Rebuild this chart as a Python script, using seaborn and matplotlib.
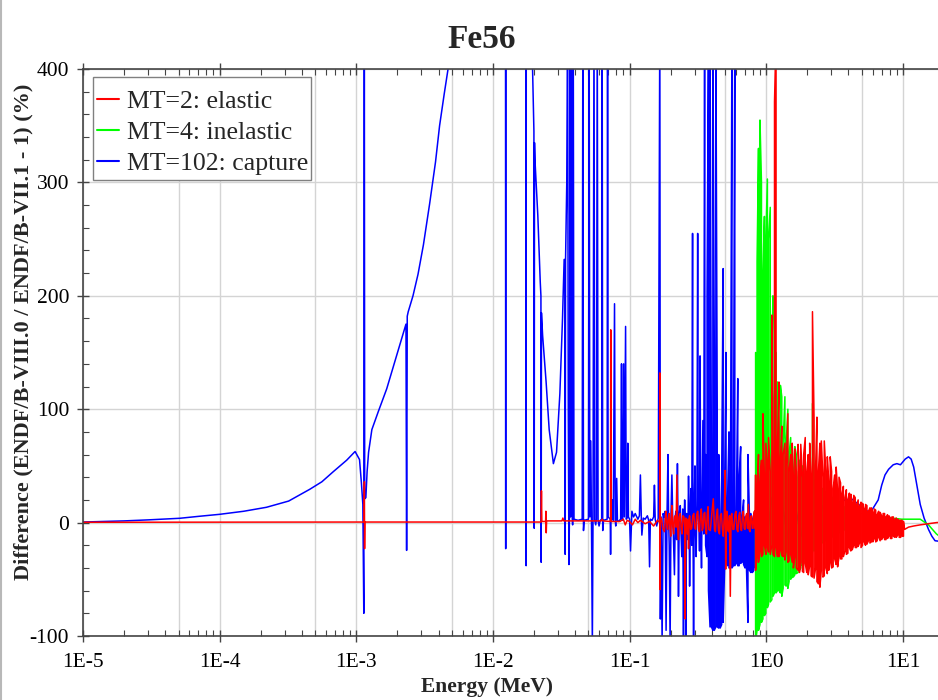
import numpy as np
import pandas as pd
import matplotlib
matplotlib.use("Agg")
import matplotlib.pyplot as plt
import seaborn as sns
from matplotlib.ticker import FixedLocator, NullFormatter
from matplotlib.lines import Line2D
from matplotlib.patches import Rectangle

# ---------------- data (energy in MeV, difference in %) ----------------
title = "Fe56"
series_labels = ["MT=2: elastic", "MT=4: inelastic", "MT=102: capture"]
series_colors = ["#ff0000", "#00ff00", "#0000ff"]
x_tick_values = [1e-5, 1e-4, 1e-3, 1e-2, 1e-1, 1e0, 1e1]
x_tick_labels = ["1E-5", "1E-4", "1E-3", "1E-2", "1E-1", "1E0", "1E1"]
y_tick_values = [-100, 0, 100, 200, 300, 400]

# energy grid of the dense fast-neutron region (elastic / inelastic envelopes)
band_E = [0.836, 0.857, 0.878, 0.900, 0.923, 0.946, 0.970, 0.994, 1.02, 1.04,
          1.07, 1.10, 1.12, 1.15, 1.18, 1.21, 1.24, 1.27, 1.30, 1.33,
          1.37, 1.40, 1.44, 1.47, 1.51, 1.55, 1.58, 1.62, 1.66, 1.71,
          1.75, 1.79, 1.84, 1.88, 1.93, 1.98, 2.03, 2.08, 2.13, 2.18,
          2.24, 2.30, 2.35, 2.41, 2.47, 2.53, 2.60, 2.66, 2.73, 2.80,
          2.87, 2.94, 3.01, 3.09, 3.17, 3.25, 3.33, 3.41, 3.50, 3.58,
          3.67, 3.77, 3.86, 3.96, 4.06, 4.16, 4.26, 4.37, 4.48, 4.59,
          4.71, 4.82, 4.94, 5.07, 5.20, 5.33, 5.46, 5.60, 5.74, 5.88,
          6.03, 6.18, 6.33, 6.49, 6.65, 6.82, 6.99, 7.17, 7.35, 7.53,
          7.72, 7.91, 8.11, 8.31, 8.52, 8.73, 8.95, 9.17, 9.40, 9.64,
          9.88, 10.1]

# ---- MT=2 elastic ----
elastic_low = [(1e-5, 0.3), (1e-3, 0.4), (1.14e-3, 0.5), (1.146e-3, 36), (1.150e-3, -23),
               (1.155e-3, 0.5), (2.25e-2, 0.5), (2.265e-2, 28), (2.28e-2, 1), (2.43e-2, 1),
               (2.44e-2, 10), (2.455e-2, -9), (2.47e-2, 1.5), (3.2e-2, 1.5), (3.25e-2, 4),
               (3.3e-2, 1.5), (6.2e-2, 1.5), (6.3e-2, 3), (6.4e-2, 1.5), (7.25e-2, 1),
               (7.28e-2, 170), (7.31e-2, 20), (7.34e-2, 1), (8.5e-2, 1), (9.0e-2, 3),
               (9.3e-2, -2), (9.6e-2, 2), (0.1, 1)]
elastic_mid = [(0.105, -2), (0.11, 3), (0.115, 0), (0.12, 2), (0.13, -1), (0.14, 1), (0.15, -3),
               (0.16, 2), (0.1662, 0), (0.1666, 132), (0.167, -59), (0.1675, 0), (0.171, 4),
               (0.175, -5), (0.18, -8), (0.183, 6), (0.185, 10), (0.188, -4), (0.19, -6),
               (0.193, 5), (0.195, 8), (0.198, -6), (0.2, -12), (0.202, 4), (0.204, 15),
               (0.207, -3), (0.21, -10), (0.213, 5), (0.215, 6), (0.219, -4), (0.222, 42),
               (0.225, -6), (0.228, -15), (0.231, 5), (0.235, 8), (0.238, -4), (0.242, -10),
               (0.246, 6), (0.25, 5), (0.253, -3), (0.255, -85), (0.258, 4), (0.26, 3),
               (0.263, -5), (0.265, -10), (0.268, 3), (0.27, -23), (0.273, 4), (0.275, 6),
               (0.28, -6), (0.285, -5), (0.29, 6), (0.295, 8), (0.3, -5), (0.305, -6),
               (0.31, 7), (0.315, 10), (0.32, -6), (0.325, -8), (0.33, 6), (0.335, 12),
               (0.34, -7), (0.345, -5), (0.35, 8), (0.355, 9), (0.36, -6), (0.365, -10),
               (0.37, 7), (0.375, 14), (0.38, -6), (0.39, -7), (0.40, 8), (0.41, 21),
               (0.418, -6), (0.425, -8), (0.432, 6), (0.44, 12), (0.447, -7), (0.455, -10),
               (0.462, 6), (0.47, 8), (0.478, -6), (0.485, -12), (0.493, 6), (0.5, 46),
               (0.505, -41), (0.51, 5), (0.515, 10), (0.522, -6), (0.53, -8), (0.538, 6),
               (0.546, -65), (0.553, 6), (0.56, 8), (0.57, -6), (0.58, -6), (0.59, 7),
               (0.6, 10), (0.61, -6), (0.62, -8), (0.63, 6), (0.64, 9), (0.65, -6),
               (0.66, -7), (0.67, 6), (0.68, 10), (0.69, -5), (0.7, -6), (0.71, 6),
               (0.72, 8), (0.73, -5), (0.74, 16), (0.75, -6), (0.76, -8), (0.77, 5),
               (0.78, 6), (0.79, -5), (0.8, -5), (0.81, 7), (0.82, 10), (0.83, -5)]
elastic_hi = [42, 25, 60, 35, 55, 96, 40, 70, 50, 75,
              45, 183, 60, 371, 430, 70, 124, 55, 85, 60,
              70, 50, 96, 45, 60, 70, 40, 65, 45, 69,
              45, 69, 40, 60, 75, 45, 60, 70, 40, 186,
              90, 50, 93, 45, 70, 72, 40, 72, 45, 58,
              35, 58, 45, 30, 42, 49, 28, 40, 35, 25,
              32, 22, 29, 20, 26, 25, 18, 24, 22, 16,
              20, 14, 18, 17, 12, 16, 15, 10, 13, 13,
              9, 12, 11, 7, 10, 9, 6, 8, 8, 5,
              7, 6, 4, 5, 5, 3, 4, 3, 2, 2,
              2, 1]
elastic_lo = [-42, -30, -35, -25, -30, -28, -20, -28, -22, -26,
              -28, -20, -28, -30, -22, -30, -30, -24, -29, -30,
              -33, -26, -35, -34, -28, -35, -40, -30, -40, -42,
              -44, -35, -43, -44, -36, -44, -46, -38, -47, -48,
              -49, -40, -52, -54, -57, -42, -48, -47, -40, -45,
              -42, -35, -40, -39, -32, -37, -39, -30, -32, -32,
              -30, -25, -28, -27, -22, -25, -24, -20, -22, -22,
              -21, -18, -22, -20, -17, -20, -19, -16, -18, -17,
              -17, -14, -17, -16, -13, -16, -15, -13, -15, -15,
              -14, -12, -14, -14, -12, -13, -13, -11, -13, -13,
              -12, -12]
elastic_high = [(10.3, -6), (11.0, -4), (12.0, -3), (13.4, -2), (15.4, -1), (17.6, 0), (20.0, 0.5)]

# ---- MT=4 inelastic ----
inelastic_hi = [150, 230, 330, 355, 300, 220, 270, 250, 303, 250,
                278, 150, 200, 110, 150, 124, 80, 121, 111, 70,
                111, 70, 100, 60, 75, 67, 45, 67, 60, 40,
                55, 40, 50, 45, 30, 40, 40, 28, 35, 105,
                40, 38, 35, 35, 32, 30, 30, 28, 27, 26,
                25, 24, 23, 22, 21, 20, 19, 18, 17, 16,
                15, 14, 13, 12, 11, 10, 10, 9, 8]
inelastic_lo = [-105, -95, -95, -90, -88, -85, -82, -80, -75, -72,
                -70, -68, -65, -62, -62, -60, -60, -62, -65, -58,
                -55, -56, -58, -52, -50, -48, -48, -46, -45, -44,
                -42, -40, -38, -35, -32, -30, -30, -28, -28, -26,
                -25, -23, -22, -21, -20, -19, -18, -17, -16, -15,
                -15, -14, -13, -12, -12, -11, -10, -9, -9, -8,
                -7, -6, -5, -4, -3, -2, 0, 2, 8]
inelastic_high = [(5.0, 8), (6.0, 7), (7.0, 5), (8.3, 4), (9.8, 3), (11.5, 3), (13.4, 3),
                  (15.4, -2), (17.6, -10), (20.0, -15)]

# ---- MT=102 capture ----
capture_low = [(1e-5, 0.5), (2e-5, 1.5), (3e-5, 2.4), (5.1e-5, 3.8), (7e-5, 5.5), (1e-4, 7.3),
               (1.5e-4, 10), (2.2e-4, 13.5), (3.2e-4, 19), (4.57e-4, 29.4), (5.6e-4, 36),
               (6.8e-4, 45), (8.5e-4, 55), (9.8e-4, 62.7), (1.056e-3, 55.6), (1.09e-3, 35),
               (1.117e-3, 16), (1.135e-3, -80), (1.145e-3, 450), (1.152e-3, 21), (1.175e-3, 22),
               (1.2e-3, 45), (1.23e-3, 62), (1.3e-3, 82), (1.45e-3, 98), (1.67e-3, 118),
               (1.97e-3, 147), (2.31e-3, 175), (2.335e-3, -24.5), (2.36e-3, 182), (2.4e-3, 186),
               (2.6e-3, 200), (2.83e-3, 219), (3.1e-3, 245), (3.44e-3, 281), (3.8e-3, 318),
               (4.07e-3, 350), (4.4e-3, 378), (4.68e-3, 399), (5.5e-3, 450), (7e-3, 520)]
capture_res = [(1.0e-2, 600), (1.235e-2, 650), (1.24e-2, -23), (1.245e-2, 650), (1.5e-2, 700),
               (1.745e-2, 640), (1.75e-2, -38), (1.755e-2, 630), (1.9e-2, 480), (1.95e-2, 400),
               (1.995e-2, 345), (2.005e-2, -5), (2.015e-2, 335), (2.03e-2, 320), (2.13e-2, 271),
               (2.22e-2, 212), (2.245e-2, 200), (2.255e-2, -35), (2.265e-2, 185), (2.31e-2, 165),
               (2.45e-2, 124), (2.58e-2, 82), (2.77e-2, 52), (2.92e-2, 62), (3.09e-2, 114),
               (3.23e-2, 180), (3.32e-2, 232), (3.37e-2, 232), (3.38e-2, -28), (3.40e-2, 232),
               (3.47e-2, 300), (3.52e-2, 450), (3.56e-2, 100), (3.6e-2, -37), (3.64e-2, 20),
               (3.67e-2, 450), (3.7e-2, 5), (3.76e-2, 450), (3.8e-2, 10), (3.83e-2, -2),
               (3.87e-2, 450), (3.92e-2, 3), (4.2e-2, 2), (4.5e-2, 3), (4.55e-2, 450),
               (4.6e-2, -7), (4.65e-2, 2), (5.0e-2, 3), (5.06e-2, 450), (5.12e-2, 5),
               (5.2e-2, 72), (5.26e-2, 3), (5.34e-2, -108), (5.4e-2, 3), (5.49e-2, 450),
               (5.56e-2, 2), (5.65e-2, -2), (5.72e-2, 3), (5.8e-2, 450), (5.88e-2, 2),
               (5.98e-2, -3), (6.1e-2, 2), (6.25e-2, 3), (6.3e-2, 450), (6.36e-2, -7),
               (6.45e-2, 2), (6.85e-2, 3), (6.9e-2, 450), (6.97e-2, 5), (7.22e-2, 3),
               (7.26e-2, -28), (7.3e-2, 2), (7.45e-2, 3), (7.5e-2, 20), (7.6e-2, 2),
               (7.76e-2, 193), (7.85e-2, 3), (7.92e-2, -3), (8.05e-2, 39), (8.15e-2, 2),
               (8.3e-2, 1), (8.6e-2, 3), (8.73e-2, 140), (8.82e-2, 3), (8.9e-2, 2),
               (9.05e-2, 140), (9.15e-2, 5), (9.35e-2, 173), (9.45e-2, 3), (9.6e-2, 4),
               (9.7e-2, 70), (9.8e-2, 5), (1.0e-1, 3), (1.016e-1, -25)]
capture_mid = [(0.104, 10), (0.107, 5), (0.110, 8), (0.115, 3), (0.118, 6), (0.120, 42), (0.122, 2),
               (0.123, -11), (0.126, 4), (0.130, 3), (0.135, 6), (0.138, 2), (0.140, -39),
               (0.142, 3), (0.146, 2), (0.150, 5), (0.152, 33), (0.154, 3), (0.158, -3),
               (0.162, 4), (0.1665, 450), (0.168, -85), (0.170, 5), (0.173, -105), (0.176, 8),
               (0.179, 5), (0.182, 10), (0.185, -95), (0.188, 8), (0.191, 60), (0.193, 5),
               (0.195, -20), (0.198, -105), (0.201, 8), (0.204, 42), (0.207, 3), (0.209, -10),
               (0.213, -46), (0.216, 5), (0.218, 10), (0.221, -15), (0.224, 52), (0.226, 3),
               (0.228, -65), (0.231, 8), (0.235, 15), (0.238, -10), (0.241, -30), (0.245, 12),
               (0.248, -105), (0.251, 5), (0.253, 20), (0.256, 2), (0.258, -105), (0.261, 8),
               (0.264, 5), (0.267, -15), (0.270, 41), (0.273, 2), (0.275, -56), (0.278, 10),
               (0.281, 30), (0.285, -20), (0.289, 255), (0.291, 10), (0.294, -105), (0.297, 12),
               (0.301, 50), (0.304, -10), (0.307, -30), (0.311, 15), (0.315, 255), (0.318, 10),
               (0.321, 20), (0.325, -25), (0.328, 147), (0.332, 5), (0.336, -40), (0.340, 25),
               (0.344, 90), (0.349, -10), (0.354, 430), (0.357, 5)]
# dense capture block (upper / lower envelope per energy)
capture_band_E = [0.360, 0.369, 0.378, 0.388, 0.397, 0.407, 0.417, 0.428, 0.438, 0.449,
                  0.460, 0.472, 0.484, 0.496, 0.508, 0.521, 0.534, 0.547, 0.561, 0.575,
                  0.589, 0.604, 0.619, 0.634, 0.650, 0.666, 0.683, 0.700, 0.717, 0.735,
                  0.754, 0.772, 0.792, 0.811, 0.832]
capture_band_hi = [60, 200, 430, 430, 50, 430, 150, 430, 100, 60,
                   5, 40, 224, 30, 150, 20, 80, 10, 430, 10,
                   430, 5, 127, 40, 67, 5, 20, 5, 5, 60,
                   5, 8, 3, 5, 3]
capture_band_lo = [-20, -30, -60, -92, -92, -95, -95, -92, -92, -93,
                   -93, -90, -88, -40, -35, -38, -40, -40, -40, -38,
                   -38, -36, -38, -38, -36, -35, -37, -40, -40, -88,
                   -42, -44, -44, -42, -40]
capture_high = [(0.85, 10), (0.9, -15), (0.95, 20), (1.0, -18), (1.1, 22), (1.2, -20), (1.3, 18),
                (1.45, -15), (1.6, 20), (1.8, -12), (2.0, 18), (2.3, -10), (2.6, 15), (3.0, -5),
                (3.4, 18), (3.8, 20), (4.2, 21), (4.75, 16), (5.3, 11), (5.8, 9), (6.6, 20),
                (7.0, 33), (7.4, 42), (7.86, 47), (8.5, 51), (9.04, 52), (9.6, 51), (10.4, 56),
                (11.0, 58), (11.5, 56), (12.0, 49), (12.7, 32), (13.4, 16), (14.3, 4),
                (15.4, -6), (16.3, -12), (17.2, -16), (20.0, -17)]


def envelope_path(E, hi, lo):
    """Trace a dense band: at each energy go from the upper to the lower value."""
    pts = []
    for i, (e, h, l) in enumerate(zip(E, hi, lo)):
        pts += [(e, h), (e, l)] if i % 2 == 0 else [(e, l), (e, h)]
    return pts


def to_frame(*segments):
    pts = [p for seg in segments for p in seg]
    return pd.DataFrame({"Energy": [p[0] for p in pts], "Diff": [p[1] for p in pts]})


df_elastic = to_frame(elastic_low, elastic_mid,
                      envelope_path(band_E, elastic_hi, elastic_lo), elastic_high)
df_inelastic = to_frame(envelope_path(band_E, inelastic_hi, inelastic_lo), inelastic_high)
df_capture = to_frame(capture_low, capture_res, capture_mid,
                      envelope_path(capture_band_E, capture_band_hi, capture_band_lo),
                      capture_high)

# ---------------- style ----------------
sns.set_style("white")
plt.rcParams["font.family"] = ["Liberation Serif", "DejaVu Serif"]

W, H = 938, 700
fig = plt.figure(figsize=(W / 100, H / 100), dpi=100)
ax = fig.add_axes([83 / W, 64 / H, 861 / W, 567 / H])
ax.set_xscale("log")

# grid
grid_color = "#d4d4d4"
for dec in range(-5, 2):
    for m in (1, 5):
        v = m * 10.0 ** dec
        if v <= 20:
            ax.axvline(v, color=grid_color, lw=1.0, zorder=0)
for yv in y_tick_values:
    ax.axhline(yv, color=grid_color, lw=1.0, zorder=0)

# data: capture first, then inelastic, elastic on top
line_w = 1.1
sns.lineplot(data=df_capture, x="Energy", y="Diff", sort=False, estimator=None,
             color=series_colors[2], lw=line_w, ax=ax, legend=False)
sns.lineplot(data=df_inelastic, x="Energy", y="Diff", sort=False, estimator=None,
             color=series_colors[1], lw=line_w, ax=ax, legend=False)
sns.lineplot(data=df_elastic, x="Energy", y="Diff", sort=False, estimator=None,
             color=series_colors[0], lw=line_w, ax=ax, legend=False)

ax.set_xlim(1e-5, 20)
ax.set_ylim(-100, 400)

# ticks
ax.xaxis.set_major_locator(FixedLocator(x_tick_values))
ax.set_xticklabels(x_tick_labels)
minor_x = [m * 10.0 ** d for d in range(-5, 2) for m in range(2, 10) if m * 10.0 ** d <= 20]
ax.xaxis.set_minor_locator(FixedLocator(minor_x))
ax.xaxis.set_minor_formatter(NullFormatter())
ax.yaxis.set_major_locator(FixedLocator(y_tick_values))
ax.set_yticklabels([str(v) for v in y_tick_values])
ax.yaxis.set_minor_locator(FixedLocator(list(range(-100, 401, 20))))
ax.yaxis.set_minor_formatter(NullFormatter())
tick_col = "#444444"
ax.tick_params(which="major", direction="inout", length=8, width=1.0, color=tick_col,
               labelsize=15.5, labelcolor="black", top=True, bottom=True, left=True, right=False)
ax.tick_params(axis="x", which="major", pad=8)
ax.tick_params(axis="y", which="major", pad=6)
ax.tick_params(which="minor", direction="in", length=4, width=0.8, color=tick_col,
               top=True, bottom=True, left=True, right=False)

for side in ("left", "bottom", "top"):
    ax.spines[side].set_color("#444444")
    ax.spines[side].set_linewidth(1.2)
ax.spines["right"].set_visible(False)

# labels
ax.set_xlabel("Energy (MeV)", fontsize=15.5, fontweight="bold")
ax.xaxis.set_label_coords((487 - 83) / 861, (636 - 677) / 567)
ax.set_ylabel("Difference (ENDF/B-VIII.0 / ENDF/B-VII.1 - 1) (%)", fontsize=16, fontweight="bold")
ax.yaxis.set_label_coords((33 - 83) / 861, (636 - 332) / 567)
fig.text(482 / W, 1 - 40 / H, title, ha="center", va="center", fontsize=24, fontweight="bold")

# legend (frame drawn as its own box)
frame = Rectangle((93 / W, 1 - 180 / H), 218 / W, 103 / H, transform=fig.transFigure,
                  facecolor="white", edgecolor="#808080", lw=1.0, zorder=4.5, clip_on=False)
ax.add_patch(frame)
handles = [Line2D([], [], color=c, lw=1.5) for c in series_colors]
leg = ax.legend(handles, series_labels, loc="upper left",
                bbox_to_anchor=((97 - 83) / 861, (636 - 90) / 567), borderaxespad=0,
                fontsize=18.5, frameon=False, handlelength=0.85, handletextpad=0.3,
                borderpad=0.0, labelspacing=0.31)
leg.set_zorder(6)

# thin frame line at the left edge of the screenshot
fig.add_artist(Line2D([0.0015, 0.0015], [0, 1], transform=fig.transFigure,
                      color="#b8b8b8", lw=1.5))

fig.savefig("out.png", dpi=100)
